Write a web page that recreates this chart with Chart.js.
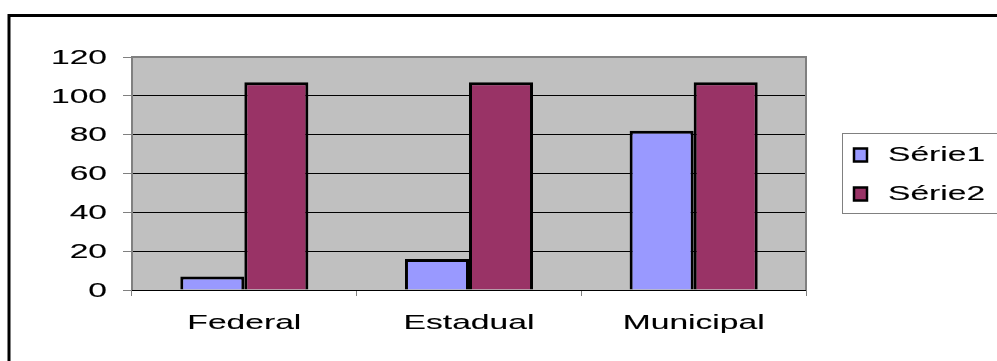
<!DOCTYPE html>
<html>
<head>
<meta charset="utf-8">
<style>
  html, body { margin: 0; padding: 0; background: #fff; }
  #wrap { width: 997px; height: 361px; position: relative; }
</style>
<script src="https://cdn.jsdelivr.net/npm/chart.js@4/dist/chart.umd.min.js"></script>
</head>
<body>
<div id="wrap"><canvas id="c" width="997" height="361"></canvas></div>
<script>
const categories = ['Federal', 'Estadual', 'Municipal'];
const serie1 = [7, 16, 82];
const serie2 = [107, 107, 107];
const yTicks = [0, 20, 40, 60, 80, 100, 120];
const seriesNames = ['Série1', 'Série2'];

const FONT = '"Liberation Sans", Arial, sans-serif';
const TEXT_SIZE = 21;
const STRETCH = 1.6; // wide lettering of the labels

// Write text stretched horizontally, anchored at (x, y)
function wideText(ctx, text, x, y, align, baseline) {
  ctx.save();
  ctx.font = TEXT_SIZE + 'px ' + FONT;
  ctx.textBaseline = baseline;
  ctx.textAlign = align;
  ctx.fillStyle = '#000';
  ctx.strokeStyle = '#000';
  ctx.lineWidth = 0.12;
  ctx.translate(x, y);
  ctx.scale(STRETCH, 1);
  ctx.fillText(text, 0, 0);
  ctx.strokeText(text, 0, 0);
  ctx.restore();
}

// Frame, plot area background/border, axis labels and the boxed legend
const decor = {
  id: 'decor',
  beforeDraw(chart) {
    const { ctx, chartArea: a } = chart;
    ctx.save();
    ctx.fillStyle = '#fff';
    ctx.fillRect(0, 0, chart.width, chart.height);
    // outer frame (open to the right and bottom)
    ctx.strokeStyle = '#000';
    ctx.lineWidth = 3;
    ctx.beginPath();
    ctx.moveTo(9, chart.height + 5);
    ctx.lineTo(9, 15.5);
    ctx.lineTo(chart.width + 5, 15.5);
    ctx.stroke();
    // plot background
    ctx.fillStyle = '#C0C0C0';
    ctx.fillRect(a.left, a.top, a.right - a.left, a.bottom - a.top);
    ctx.restore();
  },
  afterDatasetsDraw(chart) {
    const { ctx, chartArea: a } = chart;
    ctx.save();
    ctx.strokeStyle = '#808080';
    ctx.lineWidth = 2;
    ctx.beginPath();
    ctx.moveTo(a.left, a.bottom);
    ctx.lineTo(a.left, a.top);
    ctx.lineTo(a.right, a.top);
    ctx.lineTo(a.right, a.bottom);
    ctx.stroke();
    ctx.strokeStyle = '#000';
    ctx.lineWidth = 1;
    ctx.beginPath();
    ctx.moveTo(a.left, a.bottom + 0.5);
    ctx.lineTo(a.right, a.bottom + 0.5);
    ctx.stroke();
    ctx.restore();

    // axis labels
    const xs = chart.scales.x, ys = chart.scales.y;
    xs.ticks.forEach((t, i) => {
      wideText(ctx, xs.getLabelForValue(t.value), xs.getPixelForTick(i), 329, 'center', 'alphabetic');
    });
    ys.ticks.forEach((t, i) => {
      wideText(ctx, String(t.value), 107, ys.getPixelForTick(i) + 1, 'right', 'middle');
    });

    // legend box
    ctx.save();
    const bx = 842.5, by = 133.5, bw = 170, bh = 80;
    ctx.fillStyle = '#fff';
    ctx.fillRect(bx, by, bw, bh);
    ctx.strokeStyle = '#808080';
    ctx.lineWidth = 1;
    ctx.strokeRect(bx, by, bw, bh);
    chart.data.datasets.forEach((ds, i) => {
      const cy = 155 + i * 39;
      ctx.fillStyle = ds.backgroundColor;
      ctx.fillRect(854, cy - 6.5, 13, 13);
      ctx.strokeStyle = '#000';
      ctx.lineWidth = 2.5;
      ctx.strokeRect(854, cy - 6.5, 13, 13);
      wideText(ctx, ds.label, 888, cy, 'left', 'middle');
    });
    ctx.restore();
  }
};

new Chart(document.getElementById('c'), {
  type: 'bar',
  data: {
    labels: categories,
    datasets: [
      { label: seriesNames[0], data: serie1, backgroundColor: '#9999FF', borderColor: '#000', borderWidth: 3 },
      { label: seriesNames[1], data: serie2, backgroundColor: '#993366', borderColor: '#000', borderWidth: 3 }
    ]
  },
  options: {
    responsive: false,
    animation: false,
    devicePixelRatio: 1,
    layout: { padding: { left: 0, top: 57, right: 191, bottom: 0 } },
    datasets: { bar: { categoryPercentage: 0.57, barPercentage: 1 } },
    plugins: { legend: { display: false }, tooltip: { enabled: false } },
    scales: {
      x: {
        grid: { drawOnChartArea: false, offset: true, tickLength: 6, color: '#808080', lineWidth: 1 },
        border: { display: false },
        ticks: { display: false },
        afterFit(s) { s.height = 71; }
      },
      y: {
        min: 0, max: 120,
        afterBuildTicks(s) { s.ticks = yTicks.map(v => ({ value: v })); },
        grid: { color: '#000', lineWidth: 1, tickLength: 9, tickColor: '#808080' },
        border: { display: false },
        ticks: { display: false },
        afterFit(s) { s.width = 132; }
      }
    }
  },
  plugins: [decor]
});
</script>
</body>
</html>
